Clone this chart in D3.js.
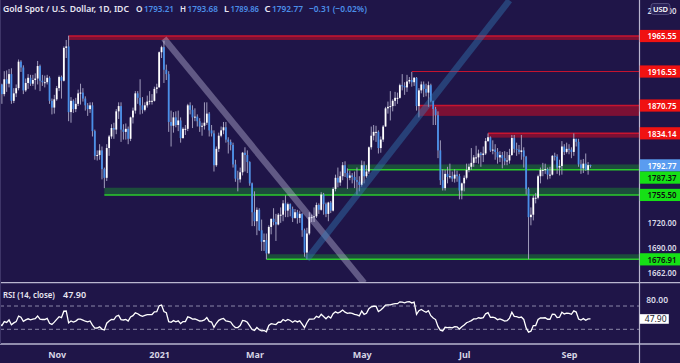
<!DOCTYPE html>
<html><head><meta charset="utf-8">
<script src="https://cdn.jsdelivr.net/npm/d3@7"></script>
<style>
html,body{margin:0;padding:0;background:#1f1548;overflow:hidden;}
svg{display:block;}
text{font-family:"Noto Sans","Open Sans",sans-serif;}
</style></head><body>
<svg id="c" width="680" height="363"></svg>
<script>
// ---------- DATA ----------
const startDate = "2020-09-29";
const holidays = ["2020-12-25","2021-01-01"];
const opens = [1881,1899,1886,1906,1900,1913,1877,1887,1894,1930,
1922,1891,1901,1908,1900,1905,1907,1924,1904,1902,
1902,1908,1877,1868,1879,1894,1909,1904,1949,1951,
1862,1877,1866,1873,1887,1888,1880,1871,1866,1871,
1837,1805,1806,1812,1788,1777,1815,1830,1841,1839,
1863,1870,1839,1836,1840,1827,1855,1864,1887,1881,
1871,1865,1871,1876,1877,1877,1893,1895,1943,1950,
1919,1913,1849,1844,1855,1845,1851,1828,1840,1840,
1871,1865,1855,1856,1850,1843,1844,1848,1860,1838,
1834,1793,1814,1831,1838,1842,1826,1823,1819,1794,
1776,1775,1784,1809,1806,1797,1770,1734,1723,1737,
1712,1698,1700,1684,1716,1726,1722,1719,1731,1731,
1745,1736,1744,1738,1727,1734,1727,1732,1712,1685,
1708,1728,1728,1729,1743,1737,1756,1744,1732,1746,
1736,1763,1777,1771,1779,1793,1783,1777,1780,1778,
1774,1772,1768,1793,1779,1785,1816,1831,1836,1836,
1815,1826,1843,1867,1869,1870,1877,1881,1881,1898,
1897,1895,1903,1905,1902,1908,1870,1891,1899,1893,
1888,1898,1877,1866,1858,1812,1774,1764,1782,1778,
1779,1776,1781,1779,1761,1770,1777,1787,1791,1796,
1803,1803,1808,1806,1808,1824,1829,1812,1813,1810,
1803,1806,1802,1798,1799,1806,1828,1814,1813,1810,
1812,1804,1763,1728,1731,1752,1752,1779,1787,1787,
1788,1781,1781,1805,1804,1790,1792,1817,1810,1814,
1813,1810,1827,1823,1794,1789,1795,1787,1793.21];
const highs = [1900,1900,1917,1918,1920,1921,1894,1899,1933,1932,
1925,1907,1913,1912,1912,1914,1931,1926,1912,1911,
1912,1910,1880,1885,1897,1911,1911,1951,1960,1966,
1882,1879,1881,1892,1900,1894,1883,1874,1875,1875,
1839,1812,1820,1817,1790,1820,1832,1846,1848,1866,
1875,1875,1846,1847,1843,1856,1868,1890,1890,1906,
1882,1875,1884,1890,1886,1896,1900,1944,1952,1959,
1926,1917,1864,1862,1863,1864,1855,1842,1845,1873,
1875,1871,1867,1859,1854,1848,1875,1875,1862,1845,
1838,1817,1835,1843,1849,1849,1829,1826,1822,1800,
1786,1790,1810,1816,1812,1798,1771,1760,1740,1739,
1725,1708,1708,1718,1726,1739,1732,1733,1740,1749,
1755,1746,1745,1741,1738,1737,1736,1733,1714,1715,
1734,1731,1740,1746,1745,1759,1758,1746,1747,1748,
1765,1781,1790,1785,1797,1798,1789,1786,1783,1785,
1790,1779,1799,1798,1793,1817,1843,1845,1844,1838,
1830,1845,1869,1876,1890,1879,1889,1888,1900,1913,
1902,1912,1909,1916,1909,1909,1894,1903,1903,1900,
1903,1900,1877,1869,1863,1825,1788,1787,1791,1795,
1785,1788,1786,1782,1771,1780,1795,1795,1815,1806,
1818,1813,1810,1817,1828,1834,1830,1825,1820,1815,
1811,1810,1811,1810,1814,1832,1832,1822,1819,1832,
1816,1805,1765,1740,1755,1758,1781,1790,1796,1795,
1790,1791,1806,1809,1807,1800,1824,1820,1822,1820,
1816,1834,1827,1827,1800,1801,1808,1797,1793.68];
const lows = [1875,1873,1883,1889,1895,1873,1874,1882,1891,1916,
1886,1889,1893,1897,1897,1892,1899,1890,1897,1895,
1899,1873,1859,1860,1877,1890,1880,1903,1935,1850,
1848,1861,1862,1870,1872,1876,1864,1857,1861,1830,
1800,1799,1800,1775,1764,1773,1805,1827,1827,1833,
1853,1823,1826,1826,1820,1824,1847,1860,1873,1859,
1860,1863,1868,1872,1872,1876,1887,1895,1935,1901,
1905,1836,1817,1835,1842,1837,1822,1827,1832,1837,
1859,1841,1850,1843,1836,1831,1839,1845,1830,1830,
1785,1791,1810,1829,1833,1822,1808,1812,1790,1772,
1760,1771,1780,1785,1783,1767,1717,1717,1706,1711,
1687,1687,1677,1683,1707,1718,1699,1718,1721,1723,
1728,1728,1729,1722,1726,1720,1721,1704,1680,1677,
1706,1722,1722,1727,1732,1736,1731,1728,1723,1733,
1735,1760,1765,1767,1774,1778,1763,1774,1770,1764,
1756,1760,1766,1770,1777,1782,1813,1825,1823,1808,
1809,1823,1843,1860,1851,1863,1870,1873,1880,1891,
1885,1889,1900,1896,1897,1864,1855,1887,1882,1883,
1869,1875,1845,1845,1802,1768,1761,1761,1770,1776,
1772,1771,1772,1750,1750,1760,1775,1784,1787,1791,
1796,1795,1791,1797,1806,1823,1810,1807,1800,1795,
1797,1789,1793,1793,1795,1805,1809,1805,1807,1800,
1790,1756,1677,1718,1724,1745,1750,1770,1779,1782,
1775,1776,1780,1799,1782,1780,1781,1806,1808,1807,
1802,1805,1817,1791,1782,1783,1786,1781,1789.86];
const closes = [1899,1886,1906,1900,1913,1877,1887,1894,1930,1922,
1891,1901,1908,1900,1905,1907,1924,1904,1902,1902,
1908,1877,1868,1879,1894,1909,1904,1949,1951,1862,
1877,1866,1873,1887,1888,1880,1871,1866,1871,1837,
1805,1806,1812,1788,1777,1815,1830,1841,1839,1863,
1870,1839,1836,1840,1827,1855,1864,1887,1881,1871,
1865,1871,1876,1877,1877,1893,1895,1943,1950,1919,
1913,1849,1844,1855,1845,1851,1828,1840,1840,1871,
1865,1855,1856,1850,1843,1844,1848,1860,1838,1834,
1793,1814,1831,1838,1842,1826,1823,1819,1794,1776,
1775,1784,1809,1806,1797,1770,1734,1723,1737,1712,
1698,1700,1684,1716,1726,1722,1719,1731,1731,1745,
1736,1744,1738,1727,1734,1727,1732,1712,1685,1708,
1728,1728,1729,1743,1737,1756,1744,1732,1746,1736,
1763,1777,1771,1779,1793,1783,1777,1780,1778,1774,
1772,1768,1793,1779,1785,1816,1831,1836,1836,1815,
1826,1843,1867,1869,1870,1877,1881,1881,1898,1897,
1895,1903,1905,1902,1908,1870,1891,1899,1893,1888,
1898,1877,1866,1858,1812,1774,1764,1782,1778,1779,
1776,1781,1779,1761,1770,1777,1787,1791,1796,1803,
1803,1808,1806,1808,1824,1829,1812,1813,1810,1803,
1806,1802,1798,1799,1806,1828,1814,1813,1810,1812,
1804,1763,1728,1731,1752,1752,1779,1787,1787,1788,
1781,1781,1805,1804,1790,1792,1817,1810,1814,1813,
1810,1827,1823,1794,1789,1795,1787,1793.08,1792.77];
// closes before the first visible bar, used only to warm up the RSI
const rsiWarmupCloses = [1970,1944,1930,1934,1930,1931,1947,1946,1940,1957,1954,1959,1944,1950,1912,1900,1863,1868,1862,1881];
const rsiLastLabel = 47.90;

const timeTickDates = ["2020-11-02","2021-01-04","2021-03-01","2021-05-03","2021-07-01","2021-09-01"];
const timeTickLabels = ["Nov","2021","Mar","May","Jul","Sep"];
const priceTicks = [2000, 1720, 1690, 1662];
const rsiTicks = [80];
const rsiBandLevels = [70, 30];

const levelValues = [1965.55, 1916.53, 1870.75, 1834.14, 1787.37, 1755.50, 1676.91];
const levelKinds  = ["res","res","res","res","sup","sup","sup"];
const levelStarts = ["2020-11-09","2021-06-01","2021-06-04","2021-07-15","2021-04-23","2020-11-30","2021-03-08"];
const levelEdges  = [1960, null, 1857, 1828.5, 1794, 1764.5, 1683];

const trendDown = [["2021-01-06",1962],["2021-05-04",1649]];
const trendUp   = [["2021-03-31",1677],["2021-07-28",2016]];

// ---------- LAYOUT ----------
const W=680, H=363, plotR=639, mainBot=282.7, rsiTop=282.7, rsiBot=344;
const BG="#1f1548", UP="#ffffff", DOWN="#4a8fe8", WICK="#a09cbc", BLUE="#4b8fe8";

// trading days
const dates=[];
{ let d=new Date(startDate+"T00:00:00Z");
  while(dates.length<closes.length){
    const s=d.toISOString().slice(0,10), wd=d.getUTCDay();
    if(wd!==0 && wd!==6 && !holidays.includes(s)) dates.push(s);
    d.setUTCDate(d.getUTCDate()+1);
  } }
const idx = s => dates.indexOf(s);
const n = closes.length;

const x = d3.scaleLinear().domain([0,n-1]).range([-0.5, -0.5+(n-1)*2.383]);
const y = d3.scaleLog().domain([1662,1965.55]).range([271.9,36]);
const yr = d3.scaleLinear().domain([30,70]).range([329.3,306]);

const svg=d3.select("#c");
svg.append("rect").attr("width",W).attr("height",H).attr("fill",BG);
const defs=svg.append("defs");
defs.append("clipPath").attr("id","cm").append("rect").attr("x",0).attr("y",0).attr("width",plotR).attr("height",mainBot);
defs.append("clipPath").attr("id","cr").append("rect").attr("x",0).attr("y",rsiTop).attr("width",plotR).attr("height",rsiBot-rsiTop);

const main=svg.append("g").attr("clip-path","url(#cm)");

// bands
levelValues.forEach((v,i)=>{
  const x0=x(idx(levelStarts[i])), res=levelKinds[i]==="res";
  if(levelEdges[i]!==null){
    const a=y(v), b=y(levelEdges[i]);
    main.append("rect").attr("x",x0).attr("y",Math.min(a,b)).attr("width",plotR-x0).attr("height",Math.abs(b-a))
      .attr("fill",res?"#7b1034":"#1c4d3c");
  }
  main.append("line").attr("x1",x0).attr("x2",plotR).attr("y1",y(v)).attr("y2",y(v))
    .attr("stroke",res?"#c8142f":"#2bcb2b").attr("stroke-width",levelEdges[i]===null?1:1.5);
});

// candles
const cg=main.append("g");
const bars=d3.range(n);
cg.selectAll("rect.w").data(bars).join("rect").attr("class","w")
  .attr("x",i=>x(i)-0.5).attr("width",1)
  .attr("y",i=>y(highs[i])).attr("height",i=>Math.max(1,y(lows[i])-y(highs[i])))
  .attr("fill",WICK);
cg.selectAll("rect.b").data(bars).join("rect").attr("class","b")
  .attr("x",i=>x(i)-0.9).attr("width",1.8)
  .attr("y",i=>Math.min(y(opens[i]),y(closes[i])))
  .attr("height",i=>Math.max(1,Math.abs(y(opens[i])-y(closes[i]))))
  .attr("fill",i=>closes[i]>=opens[i]?UP:DOWN);

// trend lines
function trend(p,col){
  main.append("line")
    .attr("x1",x(idx(p[0][0]))).attr("y1",y(p[0][1]))
    .attr("x2",x(idx(p[1][0]))).attr("y2",y(p[1][1]))
    .attr("stroke",col).attr("stroke-width",6.5);
}
trend(trendDown,"rgba(215,210,240,0.36)");
trend(trendUp,"rgba(50,125,185,0.42)");

// RSI
const allC=rsiWarmupCloses.concat(closes);
let ag=0, al=0; const rsiAll=[];
for(let i=1;i<allC.length;i++){
  const ch=allC[i]-allC[i-1], g=Math.max(ch,0), l=Math.max(-ch,0);
  if(i<=14){ag+=g/14; al+=l/14;} else {ag=(ag*13+g)/14; al=(al*13+l)/14;}
  rsiAll[i]= i>=14 ? (al===0?100:100-100/(1+ag/al)) : null;
}
const rsi=rsiAll.slice(rsiWarmupCloses.length);
const rg=svg.append("g").attr("clip-path","url(#cr)");
rsiBandLevels.forEach(v=>{
  rg.append("line").attr("x1",0).attr("x2",plotR).attr("y1",yr(v)).attr("y2",yr(v))
    .attr("stroke","#8b87a8").attr("stroke-width",1).attr("stroke-dasharray","4,3");
});
rg.append("path").datum(bars).attr("fill","none").attr("stroke","#ffffff").attr("stroke-width",1.3)
  .attr("d",d3.line().x(i=>x(i)).y(i=>yr(rsi[i])));

// separators
const sepC="#b9b6cf";
svg.append("line").attr("x1",0).attr("x2",W).attr("y1",mainBot).attr("y2",mainBot).attr("stroke",sepC).attr("stroke-width",1.3);
svg.append("line").attr("x1",0).attr("x2",W).attr("y1",rsiBot).attr("y2",rsiBot).attr("stroke",sepC).attr("stroke-width",1.3);
svg.append("line").attr("x1",plotR+0.5).attr("x2",plotR+0.5).attr("y1",0).attr("y2",H).attr("stroke",sepC).attr("stroke-width",1.2);
svg.append("line").attr("x1",0.5).attr("x2",0.5).attr("y1",0).attr("y2",rsiBot).attr("stroke","#3e3568").attr("stroke-width",1);

// price axis
const fmt=d3.format(".2f");
const pa=svg.append("g").attr("transform",`translate(${plotR},0)`)
  .call(d3.axisRight(y).tickValues(priceTicks).tickFormat(fmt).tickSize(0));
pa.select(".domain").remove();
pa.selectAll("text").attr("x",37.5).attr("text-anchor","end").attr("fill","#dcdae8")
  .attr("font-size",9).attr("font-weight",600).attr("textLength",29).attr("lengthAdjust","spacingAndGlyphs")
  .attr("font-family","'Noto Sans',sans-serif")
  .attr("dy",d=>d===1662?"0.45em":"0.2em");

// USD badge (sits over the 2000 tick, as in the reference)
svg.append("rect").attr("x",651).attr("y",3.5).attr("width",19).attr("height",11).attr("rx",2.5)
  .attr("fill","#2a2158").attr("stroke","#5e5888").attr("stroke-width",0.8);
svg.append("text").attr("x",660.5).attr("y",12).attr("text-anchor","middle").attr("fill","#ffffff")
  .attr("font-size",7.5).attr("font-weight",600).text("USD");

// level labels + last price
const lab=levelValues.map((v,i)=>({v,kind:levelKinds[i]}));
lab.push({v:closes[n-1],kind:"last"});
lab.sort((a,b)=>b.v-a.v);
let prev=-99; const lh=12.2;
lab.forEach(d=>{ d.cy=Math.max(y(d.v), prev+lh); prev=d.cy; });
lab.forEach(d=>{
  const fill=d.kind==="res"?"#f01212":d.kind==="sup"?"#16e016":"#5a9cf0";
  const tc=d.kind==="sup"?"#0d0d10":"#ffffff";
  svg.append("rect").attr("x",plotR+0.8).attr("y",d.cy-lh/2).attr("width",W-plotR).attr("height",lh).attr("fill",fill);
  svg.append("text").attr("x",676.5).attr("y",d.cy+3.3).attr("text-anchor","end").attr("fill",tc)
    .attr("font-size",9).attr("font-weight",600).attr("textLength",29).attr("lengthAdjust","spacingAndGlyphs")
    .text(fmt(d.v));
});

// RSI axis
const ra=svg.append("g").attr("transform",`translate(${plotR},0)`)
  .call(d3.axisRight(yr).tickValues(rsiTicks).tickFormat(fmt).tickSize(0));
ra.select(".domain").remove();
ra.selectAll("text").attr("x",29).attr("text-anchor","end").attr("fill","#dcdae8")
  .attr("font-size",8.5).attr("font-weight",600).attr("font-family","'Noto Sans',sans-serif");
const ry=yr(rsiLastLabel);
svg.append("rect").attr("x",plotR+0.8).attr("y",ry-4.7).attr("width",29).attr("height",9.6).attr("fill","#ffffff");
svg.append("text").attr("x",plotR+27.5).attr("y",ry+3).attr("text-anchor","end").attr("fill","#1a1a2a")
  .attr("font-size",8.5).text(fmt(rsiLastLabel));

// time axis
const ta=svg.append("g").attr("transform",`translate(0,${rsiBot})`)
  .call(d3.axisBottom(x).tickValues(timeTickDates.map(idx)).tickFormat((d,i)=>timeTickLabels[i]).tickSize(0));
ta.select(".domain").remove();
ta.selectAll("text").attr("y",8).attr("fill","#d6d4e4").attr("font-size",9).attr("font-weight",700)
  .attr("font-family","'Noto Sans',sans-serif");

// title legend: each piece is squeezed horizontally to the width it has in the reference
const last=n-1, chg=closes[last]-closes[last-1], pct=chg/closes[last-1]*100;
const minus=v=>(v<0?"\u2212":"")+Math.abs(v).toFixed(2);
function fitText(str,x0,yb,w,col,size){
  const g=svg.append("g");
  const t=g.append("text").attr("x",0).attr("y",0).attr("fill",col).attr("font-size",size).attr("font-weight",600).text(str);
  const nat=t.node().getComputedTextLength();
  g.attr("transform",`translate(${x0},${yb}) scale(${Math.min(1,w/nat)},1)`);
}
const legend=[
  {t:"Gold Spot / U.S. Dollar, 1D, IDC",x:3,w:126,c:"#e8e6f2"},
  {t:"O",x:136,w:6.5,c:"#e8e6f2"},{t:fmt(opens[last]),x:144,w:30,c:BLUE},
  {t:"H",x:180,w:6,c:"#e8e6f2"},{t:fmt(highs[last]),x:187.5,w:30.5,c:BLUE},
  {t:"L",x:224,w:5,c:"#e8e6f2"},{t:fmt(lows[last]),x:230.5,w:28.5,c:BLUE},
  {t:"C",x:264.5,w:6,c:"#e8e6f2"},{t:fmt(closes[last]),x:272,w:31,c:BLUE},
  {t:`${minus(chg)} (${minus(pct)}%)`,x:309,w:58,c:BLUE}
];
legend.forEach(s=>fitText(s.t,s.x,11.5,s.w,s.c,9.5));
fitText("RSI (14, close)",3,297.5,52,"#e8e6f2",9);
fitText(fmt(rsiLastLabel),63,297.5,25,"#e8e6f2",9);
</script>
</body></html>
